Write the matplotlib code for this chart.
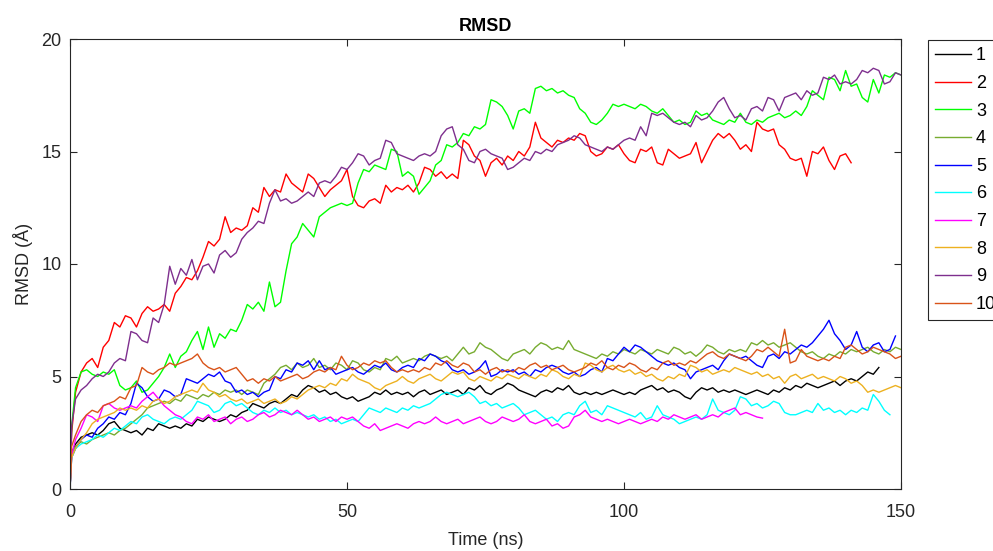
import matplotlib
matplotlib.use('Agg')
from matplotlib import pyplot as plt

plt.rcParams['font.family'] = ['Liberation Sans', 'DejaVu Sans']

# sampling times (ns): start, a quick first frame, then every ns
time_ns = [0, 0.3] + list(range(1, 151))

rmsd_1 = [0, 1.6,
          2.0, 2.3, 2.4, 2.5, 2.4, 2.6, 2.9, 3.0, 2.7, 2.6,
          2.5, 2.6, 2.4, 2.7, 2.6, 2.9, 2.8, 2.7, 2.8, 2.7,
          2.9, 2.8, 3.1, 3.0, 3.2, 3.1, 3.0, 3.1, 3.3, 3.2,
          3.4, 3.5, 3.8, 3.7, 3.6, 3.8, 3.9, 3.8, 4.0, 4.2,
          4.1, 4.4, 4.6, 4.5, 4.3, 4.4, 4.2, 4.3, 4.1, 4.0,
          4.1, 3.9, 4.0, 4.1, 4.3, 4.2, 4.4, 4.2, 4.3, 4.2,
          4.3, 4.1, 4.3, 4.4, 4.2, 4.3, 4.4, 4.2, 4.3, 4.4,
          4.2, 4.5, 4.4, 4.6, 4.3, 4.2, 4.4, 4.5, 4.7, 4.6,
          4.4, 4.3, 4.2, 4.1, 4.3, 4.4, 4.3, 4.5, 4.4, 4.6,
          4.3, 4.2, 4.3, 4.2, 4.3, 4.2, 4.3, 4.4, 4.3, 4.2,
          4.3, 4.2, 4.4, 4.5, 4.6, 4.4, 4.5, 4.3, 4.4, 4.3,
          4.1, 4.0, 4.3, 4.5, 4.4, 4.5, 4.3, 4.4, 4.3, 4.4,
          4.3, 4.2, 4.3, 4.4, 4.3, 4.2, 4.4, 4.3, 4.5, 4.4,
          4.6, 4.5, 4.7, 4.6, 4.5, 4.6, 4.7, 4.8, 4.6, 4.8,
          4.9, 4.8, 5.0, 5.2, 5.1, 5.4]

rmsd_2 = [0, 2.5,
          4.3, 5.2, 5.6, 5.8, 5.4, 6.3, 6.6, 7.4, 7.2, 7.7,
          7.6, 7.2, 7.8, 8.1, 7.9, 8.0, 8.2, 7.9, 8.7, 9.0,
          9.4, 9.3, 9.7, 10.3, 11.0, 10.8, 11.1, 12.1, 11.4, 11.6,
          11.5, 11.7, 12.5, 12.3, 13.4, 13.0, 13.3, 13.2, 14.0, 13.6,
          13.4, 13.2, 14.0, 13.8, 13.4, 13.0, 13.3, 13.5, 13.7, 14.2,
          13.0, 12.6, 12.5, 12.8, 12.9, 12.7, 13.5, 13.2, 13.4, 13.3,
          13.5, 13.2, 13.6, 14.3, 14.2, 13.9, 14.1, 13.8, 14.0, 13.8,
          15.5, 15.3, 14.8, 14.6, 13.9, 14.5, 14.7, 14.4, 14.8, 14.6,
          15.0, 14.8, 15.2, 16.3, 15.6, 15.4, 15.2, 15.5, 15.4, 15.6,
          15.5, 15.8, 15.7, 15.0, 14.8, 14.9, 15.2, 15.1, 15.3, 14.9,
          14.6, 14.5, 15.1, 15.0, 15.2, 14.5, 14.4, 15.1, 14.9, 14.7,
          14.8, 14.9, 15.4, 14.5, 15.0, 15.5, 15.8, 15.6, 15.8, 15.5,
          15.1, 15.3, 15.0, 16.3, 16.0, 15.9, 16.0, 15.3, 15.1, 14.7,
          14.6, 14.7, 13.9, 15.0, 14.9, 15.2, 14.6, 14.2, 14.8, 14.9,
          14.5]

rmsd_3 = [0, 2.8,
          4.5, 5.2, 5.3, 5.1, 5.0, 5.2, 5.1, 5.3, 4.6, 4.4,
          4.5, 4.8, 4.3, 4.4, 4.7, 5.0, 5.4, 6.0, 5.4, 5.9,
          6.1, 6.6, 7.0, 6.2, 7.2, 6.3, 6.9, 6.7, 7.1, 7.0,
          7.5, 8.2, 8.0, 8.3, 7.9, 9.2, 8.1, 8.3, 9.7, 10.9,
          11.2, 11.8, 11.5, 11.2, 12.1, 12.3, 12.5, 12.6, 12.7, 12.6,
          12.7, 13.6, 14.2, 14.1, 14.4, 14.3, 14.2, 15.1, 15.0, 13.9,
          14.1, 13.9, 13.1, 13.4, 13.7, 14.4, 14.6, 15.3, 15.2, 15.4,
          15.8, 15.7, 16.1, 16.0, 16.2, 17.3, 17.2, 17.0, 16.6, 16.0,
          16.8, 16.9, 16.7, 17.8, 17.9, 17.7, 17.8, 17.6, 17.7, 17.5,
          17.4, 16.9, 16.7, 16.3, 16.2, 16.4, 16.7, 17.1, 17.0, 17.1,
          17.0, 16.9, 17.1, 17.0, 16.8, 16.7, 16.9, 16.6, 16.3, 16.4,
          16.2, 16.3, 16.8, 16.6, 16.7, 16.4, 16.3, 16.2, 16.4, 16.3,
          16.7, 16.3, 16.2, 16.4, 16.3, 16.5, 16.6, 16.7, 16.5, 16.6,
          16.8, 16.6, 17.0, 17.7, 17.5, 17.3, 18.3, 18.2, 17.7, 18.6,
          17.9, 18.0, 17.4, 17.2, 18.2, 17.6, 18.4, 18.3, 18.5, 18.4]

rmsd_4 = [0, 1.6,
          1.9, 2.1, 2.0, 2.2, 2.3, 2.4, 2.5, 2.4, 2.6, 2.7,
          2.9, 3.1, 3.3, 3.6, 3.7, 3.8, 3.9, 3.8, 4.0, 3.9,
          4.2, 4.1, 4.0, 4.2, 4.1, 4.3, 4.2, 4.4, 4.3, 4.4,
          4.2, 4.4, 4.3, 4.2, 4.7, 4.9, 5.1, 5.4, 5.5, 5.3,
          5.6, 5.4, 5.5, 5.8, 5.4, 5.5, 5.3, 5.6, 5.5, 5.3,
          5.7, 5.6, 5.3, 5.2, 5.4, 5.3, 5.8, 5.7, 5.9, 5.6,
          5.7, 5.8, 5.7, 5.9, 6.0, 5.9, 5.8, 5.9, 5.7, 6.0,
          6.3, 6.0, 6.1, 6.5, 6.3, 6.2, 6.0, 5.8, 5.7, 6.0,
          6.1, 6.2, 6.0, 6.3, 6.5, 6.4, 6.2, 6.3, 6.2, 6.6,
          6.2, 6.1, 6.0, 5.9, 5.8, 6.0, 5.9, 6.1, 6.0, 6.2,
          6.1, 6.0, 6.2, 6.1, 6.0, 6.2, 6.1, 6.0, 6.3, 6.2,
          6.0, 6.1, 5.9, 6.1, 6.4, 6.3, 6.1, 6.0, 6.2, 6.1,
          6.2, 6.1, 6.5, 6.4, 6.6, 6.4, 6.5, 6.3, 6.4, 6.5,
          6.3, 6.1, 6.0, 6.1, 5.9, 5.8, 6.0, 5.9, 6.1, 6.0,
          6.2, 6.1, 6.2, 6.3, 6.1, 6.0, 6.2, 6.1, 6.3, 6.2]

rmsd_5 = [0, 1.4,
          1.8, 2.2, 2.4, 2.3, 2.7, 2.9, 3.2, 3.1, 3.4, 3.3,
          3.8, 4.7, 4.5, 4.1, 3.9, 4.0, 4.4, 4.3, 4.1, 4.2,
          4.9, 4.8, 4.7, 4.9, 5.1, 5.0, 5.2, 4.8, 4.7, 4.3,
          4.4, 4.2, 4.3, 4.1, 4.3, 4.4, 5.0, 4.9, 5.3, 5.2,
          5.6, 5.5, 5.7, 5.3, 5.7, 5.3, 5.4, 5.1, 5.2, 5.3,
          5.4, 5.2, 5.1, 5.3, 5.5, 5.4, 5.6, 5.3, 5.2, 5.4,
          5.5, 5.4, 5.8, 5.7, 6.0, 5.9, 5.7, 5.6, 5.3, 5.2,
          5.3, 5.1, 5.2, 5.4, 5.7, 5.0, 5.1, 5.3, 5.2, 5.3,
          5.1, 5.2, 5.0, 5.3, 5.2, 5.4, 5.5, 5.4, 5.2, 5.1,
          5.2, 5.0, 5.1, 5.3, 5.4, 5.2, 5.8, 5.7, 6.0, 6.3,
          6.1, 6.4, 6.3, 6.1, 5.9, 5.7, 5.6, 5.5, 5.6, 5.4,
          5.3, 4.9, 5.2, 5.3, 5.4, 5.5, 5.3, 5.7, 6.0, 5.9,
          5.8, 5.9, 5.7, 5.5, 5.4, 5.9, 6.0, 5.8, 6.1, 6.0,
          6.2, 6.4, 6.3, 6.5, 6.8, 7.1, 7.5, 6.9, 6.6, 6.2,
          6.4, 7.0, 6.3, 6.1, 6.4, 6.5, 6.1, 6.2, 6.8]

rmsd_6 = [0, 1.4,
          1.8, 2.0, 2.1, 2.2, 2.4, 2.3, 2.5, 2.7, 2.6, 2.8,
          3.0, 2.9, 3.2, 3.3, 3.1, 3.0, 2.9, 3.1, 3.2, 3.1,
          3.3, 3.5, 3.9, 3.8, 3.7, 3.4, 3.5, 3.8, 3.9, 3.7,
          3.8, 3.6, 3.4, 3.3, 3.5, 3.4, 3.6, 3.4, 3.5, 3.3,
          3.4, 3.3, 3.2, 3.3, 3.1, 3.2, 3.0, 3.1, 2.9, 3.0,
          3.1, 3.0, 3.3, 3.6, 3.5, 3.4, 3.6, 3.5, 3.4, 3.6,
          3.5, 3.7, 3.6, 3.7, 3.8, 4.0, 4.2, 4.3, 4.2, 4.1,
          4.2, 4.3, 4.1, 3.8, 3.9, 3.7, 3.8, 3.6, 3.7, 3.8,
          3.6, 3.3, 3.4, 3.5, 3.3, 3.1, 3.2, 3.0, 3.3, 3.4,
          3.3, 3.7, 3.9, 3.4, 3.5, 3.3, 3.7, 3.6, 3.5, 3.4,
          3.3, 3.2, 3.4, 3.1, 3.2, 3.7, 3.3, 3.2, 3.1, 2.9,
          3.0, 3.1, 3.2, 3.1, 3.3, 4.0, 3.5, 3.4, 3.3, 3.5,
          4.1, 4.0, 3.7, 3.8, 3.6, 3.7, 3.9, 3.8, 3.4, 3.3,
          3.3, 3.4, 3.5, 3.4, 3.8, 3.5, 3.6, 3.4, 3.5, 3.3,
          3.5, 3.4, 3.6, 3.5, 4.2, 3.9, 3.5, 3.3]

rmsd_7 = [0, 1.5,
          2.2, 2.7, 3.3, 3.2, 3.0, 3.7, 3.8, 3.6, 3.5, 3.6,
          3.7, 3.6, 3.9, 4.1, 4.3, 4.0, 3.7, 3.5, 3.3, 3.2,
          3.0, 2.9, 3.2, 3.1, 3.3, 3.0, 3.1, 3.2, 2.9, 3.1,
          3.2, 3.0, 3.1, 3.3, 3.4, 3.2, 3.3, 3.5, 3.4, 3.3,
          3.5, 3.3, 3.1, 3.2, 3.0, 3.1, 3.2, 3.0, 3.2, 3.1,
          3.2, 3.0, 2.8, 2.7, 2.9, 2.6, 2.7, 2.8, 2.9, 2.8,
          2.7, 2.9, 3.0, 2.9, 3.0, 3.2, 3.0, 2.9, 3.0, 3.1,
          2.9, 3.0, 3.1, 3.2, 3.0, 2.9, 3.0, 3.2, 3.1, 3.0,
          3.1, 3.3, 3.0, 2.9, 3.0, 3.1, 2.8, 2.9, 2.7, 2.8,
          3.2, 3.3, 3.5, 3.2, 3.1, 3.0, 3.1, 3.0, 2.9, 3.0,
          3.1, 3.0, 2.9, 3.0, 3.1, 3.0, 3.2, 3.1, 3.3, 3.2,
          3.1, 3.2, 3.3, 3.1, 3.2, 3.3, 3.2, 3.4, 3.5, 3.6,
          3.3, 3.4, 3.3, 3.2, 3.15]

rmsd_8 = [0, 1.4,
          1.8, 2.2, 2.5, 2.9, 3.1, 3.2, 3.3, 3.4, 3.6, 3.5,
          3.6, 3.5, 3.7, 3.6, 3.9, 4.0, 3.8, 3.9, 4.1, 4.2,
          4.3, 4.4, 4.3, 4.7, 4.4, 4.3, 4.1, 4.2, 4.0, 3.9,
          4.0, 3.8, 3.9, 4.0, 3.8, 3.9, 4.0, 3.8, 3.9, 4.1,
          4.0, 4.2, 4.4, 4.5, 4.6, 4.5, 4.7, 4.6, 4.9, 4.8,
          5.1, 4.9, 4.8, 4.7, 4.5, 4.4, 4.6, 4.7, 4.8, 5.0,
          4.8, 4.7, 4.9, 5.0, 5.1, 4.9, 4.8, 5.0, 5.2, 5.1,
          5.2, 4.9, 4.8, 5.0, 4.9, 4.8, 5.0, 4.9, 5.1, 5.0,
          4.9, 5.1, 5.0, 4.9, 5.1, 5.0, 5.3, 5.2, 5.0, 4.9,
          5.1, 5.0, 5.6, 5.5, 5.3, 5.2, 5.4, 5.5, 5.3, 5.2,
          5.3, 5.1, 5.2, 5.0, 5.1, 4.9, 4.8, 5.0, 4.9, 5.1,
          5.0, 5.5, 5.4, 5.2, 5.3, 5.1, 5.2, 5.3, 5.2, 5.4,
          5.3, 5.2, 5.1, 5.2, 5.0, 5.1, 4.9, 5.0, 4.7, 5.0,
          5.1, 4.9, 5.0, 5.1, 4.9, 5.0, 4.9, 4.8, 5.0, 4.9,
          4.7, 4.8, 4.6, 4.3, 4.4, 4.3, 4.4, 4.5, 4.6, 4.5]

rmsd_9 = [0, 2.8,
          4.0, 4.4, 4.6, 4.9, 5.1, 5.0, 5.2, 5.6, 5.8, 5.7,
          7.0, 6.9, 6.6, 6.5, 7.6, 7.4, 8.2, 9.9, 9.1, 9.8,
          9.5, 10.2, 9.3, 9.9, 10.0, 9.6, 10.4, 10.6, 10.3, 10.5,
          11.1, 11.4, 11.6, 11.9, 11.8, 12.7, 13.3, 12.8, 12.9, 12.7,
          12.8, 13.0, 13.2, 13.0, 13.6, 13.7, 13.6, 13.9, 14.3, 14.2,
          14.5, 14.9, 14.8, 14.4, 14.6, 14.7, 15.5, 15.4, 14.9, 14.8,
          14.7, 14.6, 14.8, 14.9, 14.8, 15.0, 15.7, 16.0, 16.1, 15.3,
          15.1, 14.6, 14.5, 15.0, 15.1, 14.9, 14.8, 14.7, 14.2, 14.3,
          14.5, 14.7, 14.6, 15.0, 14.9, 15.1, 15.0, 15.3, 15.4, 15.5,
          15.7, 15.6, 15.3, 15.2, 15.1, 15.0, 15.2, 15.1, 15.3, 15.5,
          15.6, 15.5, 16.1, 15.7, 16.7, 16.6, 16.7, 16.5, 16.3, 16.2,
          16.3, 16.1, 16.6, 16.4, 16.5, 16.8, 17.2, 17.4, 16.9, 16.5,
          16.6, 16.4, 16.9, 17.0, 16.8, 17.4, 17.3, 16.8, 17.4, 17.5,
          17.6, 17.3, 17.7, 17.5, 17.6, 18.3, 18.2, 18.4, 18.0, 18.1,
          18.0, 18.2, 18.6, 18.5, 18.7, 18.6, 18.0, 18.1, 18.5, 18.4]

rmsd_10 = [0, 1.9,
           2.4, 3.0, 3.3, 3.5, 3.4, 3.7, 3.8, 3.9, 4.1, 4.0,
           4.5, 4.6, 5.4, 5.2, 5.1, 5.3, 5.4, 5.6, 5.5, 5.6,
           5.7, 5.8, 6.0, 5.6, 5.4, 5.3, 5.4, 5.2, 5.3, 5.4,
           5.1, 4.8, 4.9, 4.7, 4.9, 4.8, 5.0, 4.8, 4.9, 5.0,
           5.1, 4.9, 5.0, 5.2, 5.3, 5.2, 5.4, 5.3, 5.9, 5.5,
           5.3, 5.4, 5.6, 5.5, 5.7, 5.6, 5.7, 5.4, 5.2, 5.3,
           5.2, 5.3, 5.2, 5.4, 5.3, 5.6, 5.5, 5.7, 5.5, 5.4,
           5.6, 5.5, 5.2, 5.3, 5.1, 5.3, 5.4, 5.2, 5.3, 5.2,
           5.4, 5.3, 5.5, 5.6, 5.4, 5.5, 5.3, 5.4, 5.5, 5.3,
           5.2, 5.3, 5.4, 5.6, 5.5, 5.7, 5.4, 5.3, 5.5, 5.4,
           5.6, 5.5, 5.3, 5.2, 5.4, 5.3, 5.6, 5.7, 5.5, 5.6,
           5.5, 5.7, 5.6, 5.8, 6.0, 6.1, 5.9, 5.8, 6.0, 5.9,
           5.8, 5.7, 5.9, 6.2, 6.1, 6.3, 6.1, 5.9, 7.1, 5.6,
           5.7, 6.2, 5.9, 5.8, 5.7, 5.8, 5.7, 5.9, 5.8, 6.3,
           6.4, 6.2, 6.0, 6.1, 6.3, 6.2, 6.1, 6.0, 5.8, 5.9]

series = [rmsd_1, rmsd_2, rmsd_3, rmsd_4, rmsd_5,
          rmsd_6, rmsd_7, rmsd_8, rmsd_9, rmsd_10]
labels = ['1', '2', '3', '4', '5', '6', '7', '8', '9', '10']
colors = ['#000000', '#FF0000', '#00FF00', '#77AC30', '#0000FF',
          '#00FFFF', '#FF00FF', '#EDB120', '#7E2F8E', '#D95319']

fig = plt.figure(figsize=(9.93, 5.51), dpi=100)
ax = fig.add_axes([70 / 993, 1 - 489 / 551, 831 / 993, 450 / 551])

for values, label, color in zip(series, labels, colors):
    ax.plot(time_ns[:len(values)], values, color=color, linewidth=1.0, label=label)

ax.set_xlim(0, 150)
ax.set_ylim(0, 20)
ax.set_xticks([0, 50, 100, 150])
ax.set_yticks([0, 5, 10, 15, 20])
ax.tick_params(direction='in', top=True, right=True, length=5, width=0.8,
               labelsize=13, colors='#262626')
ax.tick_params(axis='x', pad=11)
ax.tick_params(axis='y', pad=6)
for sp in ax.spines.values():
    sp.set_color('#262626')
    sp.set_linewidth(0.8)

ax.set_title('RMSD', fontsize=13, fontweight='bold', pad=6)
ax.set_xlabel('Time (ns)', fontsize=13, color='#262626', labelpad=7.5)
ax.set_ylabel('RMSD (Å)', fontsize=13, color='#262626', labelpad=6)

leg = ax.legend(loc='upper left', bbox_to_anchor=(928 / 993, 1 - 40 / 551),
                bbox_transform=fig.transFigure, fontsize=13, frameon=True,
                fancybox=False, framealpha=1, edgecolor='#262626',
                borderaxespad=0, labelspacing=0.59, handlelength=2.0,
                handletextpad=0.25, borderpad=0.4)
leg.get_frame().set_linewidth(0.8)

fig.savefig('out.png', dpi=100)
